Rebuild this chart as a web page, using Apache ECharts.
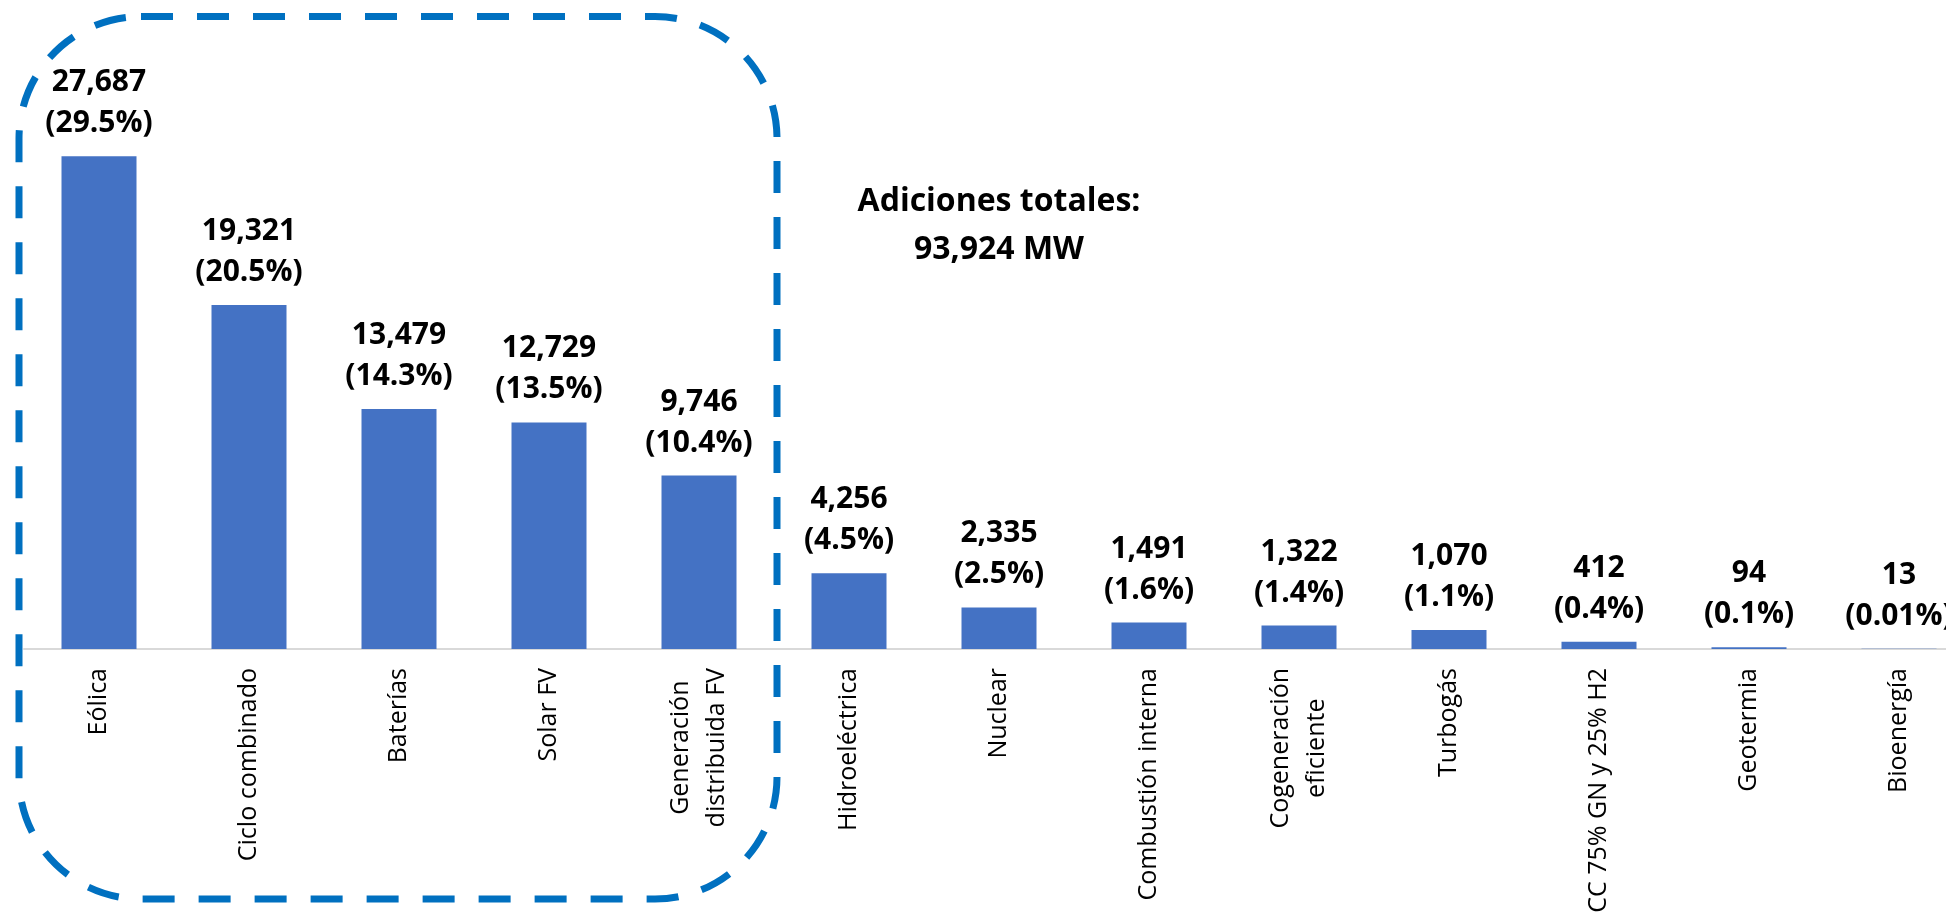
<!DOCTYPE html>
<html>
<head>
<meta charset="utf-8">
<title>Adiciones de capacidad por tecnología</title>
<script src="https://cdn.jsdelivr.net/npm/echarts@6/dist/echarts.min.js"></script>
<style>
  html, body { margin: 0; padding: 0; background: #ffffff; overflow: hidden; }
  /* the last category runs past the right edge of the view */
  #chart { width: 1990px; height: 917px; }
</style>
</head>
<body>
<div id="chart"></div>
<script>
// Capacity additions by technology (MW) and their share of the total
const categories = [
  'Eólica', 'Ciclo combinado', 'Baterías', 'Solar FV', 'Generación\ndistribuida FV',
  'Hidroeléctrica', 'Nuclear', 'Combustión interna', 'Cogeneración\neficiente',
  'Turbogás', 'CC 75% GN y 25% H2', 'Geotermia', 'Bioenergía'
];
const capacityMW = [27687, 19321, 13479, 12729, 9746, 4256, 2335, 1491, 1322, 1070, 412, 94, 13];
const sharePct = ['29.5', '20.5', '14.3', '13.5', '10.4', '4.5', '2.5', '1.6', '1.4', '1.1', '0.4', '0.1', '0.01'];
const totalMW = 93924;
// First five technologies are grouped by the dashed frame
const highlightedCount = 5;

const fmt = n => n.toLocaleString('en-US');

const chart = echarts.init(document.getElementById('chart'), null, { renderer: 'canvas' });

const totalText = {
  type: 'text',
  style: {
    text: 'Adiciones totales:\n' + fmt(totalMW) + ' MW',
    x: 999,
    y: 178,
    align: 'center',
    verticalAlign: 'top',
    font: 'bold 32px "Open Sans"',
    lineHeight: 48,
    fill: '#000000'
  }
};

const option = {
  animation: false,
  backgroundColor: '#ffffff',
  grid: { left: 24, top: 115, width: 1950, height: 534, containLabel: false },
  xAxis: {
    type: 'category',
    data: categories,
    axisLine: { show: true, lineStyle: { color: '#d9d9d9', width: 2 } },
    axisTick: { show: false },
    axisLabel: {
      interval: 0,
      rotate: 90,
      margin: 19,
      formatter: v => v.split('\n').map(l => '{c|' + l + '}').join('\n'),
      rich: {
        c: {
          fontFamily: '"Open Sans"',
          fontSize: 25,
          lineHeight: 36,
          color: '#000000',
          align: 'center'
        }
      }
    }
  },
  yAxis: {
    type: 'value',
    min: 0,
    max: 30000,
    show: false,
    splitLine: { show: false }
  },
  series: [{
    type: 'bar',
    data: capacityMW,
    barWidth: '50%',
    itemStyle: { color: '#4472c4' },
    label: {
      show: true,
      position: 'top',
      distance: 12,
      fontFamily: '"Open Sans"',
      fontWeight: 'bold',
      fontSize: 30,
      lineHeight: 41,
      color: '#000000',
      formatter: p => fmt(p.value) + '\n(' + sharePct[p.dataIndex] + '%)'
    }
  }],
  graphic: [totalText]
};

chart.setOption(option);

// Dashed rounded frame around the leading technologies, placed from the category axis
const c0 = chart.convertToPixel({ xAxisIndex: 0 }, categories[0]);
const c1 = chart.convertToPixel({ xAxisIndex: 0 }, categories[1]);
const cLast = chart.convertToPixel({ xAxisIndex: 0 }, categories[highlightedCount - 1]);
const band = c1 - c0;
const frameLeft = c0 - band / 2 - 5;
const frameRight = cLast + band / 2 + 3;

chart.setOption({
  graphic: [totalText, {
    type: 'rect',
    shape: { x: frameLeft, y: 16.5, width: frameRight - frameLeft, height: 882.5, r: 122 },
    style: {
      fill: 'none',
      stroke: '#0070c0',
      lineWidth: 7,
      lineDash: [32, 24]
    },
    z: 10
  }]
});
</script>
</body>
</html>
